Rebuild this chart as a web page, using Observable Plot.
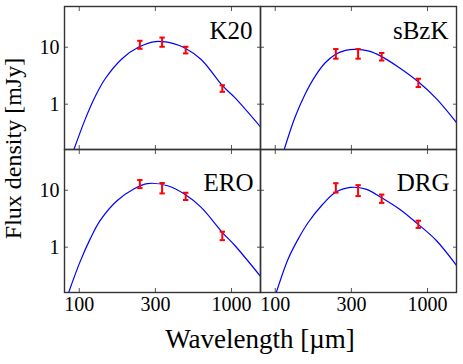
<!DOCTYPE html>
<html>
<head>
<meta charset="utf-8">
<script src="https://cdn.jsdelivr.net/npm/d3@7"></script>
<script src="https://cdn.jsdelivr.net/npm/@observablehq/plot@0.6"></script>
<style>
  body { margin: 0; background: #fff; }
  #chart { width: 463px; height: 364px; }
</style>
</head>
<body>
<div id="chart"></div>
<script>
// ---- data ----
const panelNames = ["K20", "sBzK", "ERO", "DRG"];
const panelColumn = [0, 1, 0, 1];
const panelRow = [0, 0, 1, 1];

const bandWavelengths = [250, 350, 500, 870];

const fluxK20 = [11.2, 12.5, 9.0, 1.9];
const errK20 = [1.8, 2.3, 1.2, 0.25];
const fluxSBzK = [7.8, 7.8, 6.9, 2.4];
const errSBzK = [1.5, 1.5, 1.05, 0.4];
const fluxERO = [13.0, 11.1, 7.9, 1.6];
const errERO = [2.1, 2.3, 1.15, 0.27];
const fluxDRG = [11.2, 10.1, 7.2, 2.55];
const errDRG = [2.1, 2.2, 1.2, 0.37];

const fitWaveK20 = [92.2, 109, 127, 148, 191, 246, 318, 421, 490, 632, 875, 1052, 1581];
const fitFluxK20 = [0.159, 0.53, 1.35, 2.8, 6.3, 10.1, 12.6, 11.5, 9.8, 6.1, 2.09, 1.30, 0.374];
const fitWaveSBzK = [114.4, 134.6, 157, 183, 213, 248, 289, 337, 413, 494, 653, 873, 1143, 1578];
const fitFluxSBzK = [0.159, 0.583, 1.50, 3.12, 5.34, 7.48, 8.79, 9.15, 8.55, 6.99, 4.37, 2.45, 1.25, 0.447];
const fitWaveERO = [85.4, 101, 118, 137, 177, 228, 280, 380, 490, 632, 875, 1052, 1563];
const fitFluxERO = [0.163, 0.547, 1.40, 2.93, 6.55, 10.5, 13.1, 12.0, 8.58, 5.0, 1.79, 1.07, 0.299];
const fitWaveDRG = [101.8, 121.7, 141.6, 165, 203, 248, 312, 393, 496, 653, 873, 1143, 1578];
const fitFluxDRG = [0.163, 0.627, 1.40, 2.74, 5.51, 9.16, 11.2, 10.5, 7.48, 4.69, 2.49, 1.31, 0.447];

const xTicks = [100, 316.2, 1000];
const xTickLabels = ["100", "300", "1000"];
const yTicks = [1, 10];
const yTickLabels = ["1", "10"];
const xLabel = "Wavelength [µm]";
const yLabel = "Flux density [mJy]";

// ---- tables ----
const fluxes = [fluxK20, fluxSBzK, fluxERO, fluxDRG];
const errs = [errK20, errSBzK, errERO, errDRG];
const fitWaves = [fitWaveK20, fitWaveSBzK, fitWaveERO, fitWaveDRG];
const fitFluxes = [fitFluxK20, fitFluxSBzK, fitFluxERO, fitFluxDRG];

const points = panelNames.flatMap((p, i) => bandWavelengths.map((w, j) => ({
  panel: p, col: panelColumn[i], row: panelRow[i], wave: w,
  flux: fluxes[i][j], lo: fluxes[i][j] - errs[i][j], hi: fluxes[i][j] + errs[i][j]
})));
const fits = panelNames.flatMap((p, i) => fitWaves[i].map((w, j) => ({
  panel: p, col: panelColumn[i], row: panelRow[i], wave: w, flux: fitFluxes[i][j]
})));
const labels = panelNames.map((p, i) => ({panel: p, col: panelColumn[i], row: panelRow[i]}));
const xTickRows = [0, 1].flatMap(c => xTicks.map((v, i) => ({col: c, row: 1, value: v, label: xTickLabels[i]})));
const yTickRows = [0, 1].flatMap(r => yTicks.map((v, i) => ({col: 0, row: r, value: v, label: yTickLabels[i]})));

const capSymbol = { draw(ctx) { ctx.moveTo(-2.7, 0); ctx.lineTo(2.7, 0); } };
const tickStroke = "#555";
const serif = "'Liberation Serif', 'DejaVu Serif', serif";

const svg = Plot.plot({
  width: 463,
  height: 364,
  marginLeft: 64,
  marginRight: 7,
  marginTop: 5,
  marginBottom: 72,
  style: { fontFamily: serif, fontSize: "20px", background: "#fff", color: "#000" },
  x: { type: "log", domain: [80, 1550] },
  y: { type: "log", domain: [0.16, 52] },
  fx: { domain: [0, 1], padding: 0, axis: null },
  fy: { domain: [0, 1], padding: 0, axis: null },
  marks: [
    Plot.line(fits, { x: "wave", y: "flux", z: "panel", fx: "col", fy: "row", stroke: "#0000ff", strokeWidth: 1.2, curve: "catmull-rom", clip: true }),
    Plot.ruleX(points, { x: "wave", y1: "lo", y2: "hi", fx: "col", fy: "row", stroke: "#ff0000", strokeWidth: 2 }),
    Plot.dot(points, { x: "wave", y: "lo", fx: "col", fy: "row", symbol: capSymbol, stroke: "#ff0000", fill: "none", strokeWidth: 2 }),
    Plot.dot(points, { x: "wave", y: "hi", fx: "col", fy: "row", symbol: capSymbol, stroke: "#ff0000", fill: "none", strokeWidth: 2 }),
    Plot.axisX(xTicks, { anchor: "bottom", tickSize: -4, fill: "none", label: null, stroke: tickStroke, facetAnchor: null }),
    Plot.axisX(xTicks, { anchor: "top", tickSize: -4, fill: "none", label: null, stroke: tickStroke, facetAnchor: null }),
    Plot.axisY(yTicks, { anchor: "left", tickSize: -4, fill: "none", label: null, stroke: tickStroke, facetAnchor: null }),
    Plot.axisY(yTicks, { anchor: "right", tickSize: -4, fill: "none", label: null, stroke: tickStroke, facetAnchor: null }),
    Plot.text(xTickRows, { x: "value", text: "label", fx: "col", fy: "row", frameAnchor: "bottom", lineAnchor: "top", dy: 4, fontSize: 20, fill: "#000" }),
    Plot.text(yTickRows, { y: "value", text: "label", fx: "col", fy: "row", frameAnchor: "left", textAnchor: "end", dx: -5, fontSize: 20, fill: "#000" }),
    Plot.frame({ stroke: "#333", strokeWidth: 1.4 }),
    Plot.text(labels, { filter: d => d.row === 0, text: "panel", fx: "col", fy: "row", frameAnchor: "top-right", textAnchor: "end", lineAnchor: "bottom", dx: -8, dy: 32, fontSize: 25, fill: "#000" }),
    Plot.text(labels, { filter: d => d.row === 1, text: "panel", fx: "col", fy: "row", frameAnchor: "top-right", textAnchor: "end", lineAnchor: "bottom", dx: -7, dy: 41, fontSize: 25, fill: "#000" })
  ]
});

const sel = d3.select(svg);
sel.attr("font-family", serif);
sel.append("text")
  .attr("x", 260).attr("y", 348)
  .attr("text-anchor", "middle")
  .attr("font-size", 27)
  .attr("fill", "#000")
  .text(xLabel);
sel.append("text")
  .attr("transform", "translate(21,148.5) rotate(-90)")
  .attr("text-anchor", "middle")
  .attr("font-size", 24)
  .attr("fill", "#000")
  .text(yLabel);

document.getElementById("chart").appendChild(svg);
</script>
</body>
</html>
